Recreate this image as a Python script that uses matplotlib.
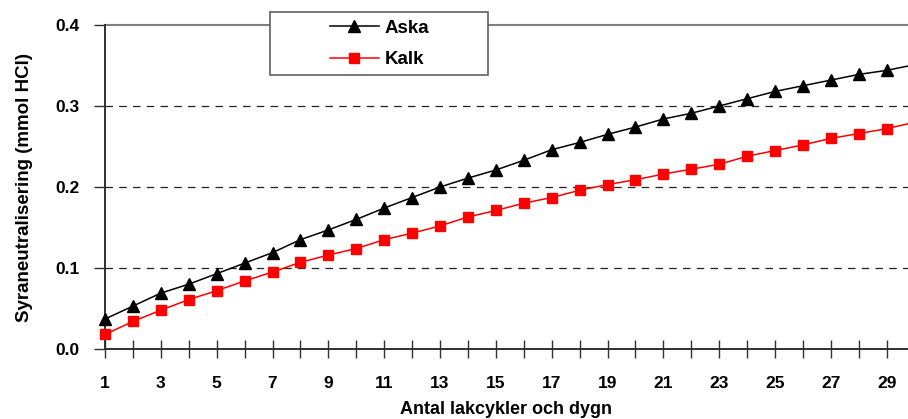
import matplotlib
matplotlib.use('Agg')
import matplotlib.pyplot as plt
from matplotlib.patches import Rectangle
from matplotlib.lines import Line2D

plt.rcParams['font.family'] = ['Liberation Sans', 'DejaVu Sans']
plt.rcParams['font.weight'] = 'bold'

# data
dygn = list(range(1, 31))
aska = [0.037, 0.053, 0.069, 0.080, 0.093, 0.106, 0.119, 0.135, 0.147, 0.160,
        0.174, 0.187, 0.200, 0.211, 0.221, 0.233, 0.246, 0.255, 0.265, 0.274,
        0.284, 0.291, 0.300, 0.309, 0.318, 0.325, 0.332, 0.339, 0.344, 0.351]
kalk = [0.018, 0.034, 0.048, 0.061, 0.072, 0.084, 0.095, 0.107, 0.116, 0.124,
        0.135, 0.143, 0.152, 0.163, 0.171, 0.180, 0.187, 0.196, 0.203, 0.209,
        0.216, 0.222, 0.228, 0.238, 0.245, 0.252, 0.260, 0.266, 0.272, 0.280]
yticks = [0.0, 0.1, 0.2, 0.3, 0.4]
ytick_labels = ['0.0', '0.1', '0.2', '0.3', '0.4']
xticks = list(range(1, 30, 2))

fig = plt.figure(figsize=(9.08, 4.19), dpi=100)
ax = fig.add_axes([105 / 908, 1 - 349 / 419, 1 - 105 / 908, (349 - 25) / 419])

ax.plot(dygn, aska, color='black', lw=1.1, marker='^', ms=8, clip_on=False, zorder=5)
ax.plot(dygn, kalk, color='red', lw=1.1, marker='s', ms=7, mec='red', clip_on=False, zorder=5)

ax.set_xlim(1, 29.76)
ax.set_ylim(0, 0.4)
ax.set_yticks(yticks)
ax.set_yticklabels(ytick_labels)
ax.set_xticks(range(1, 30), minor=True)
ax.set_xticks(xticks)

# gridlines
for v in yticks[1:-1]:
    ax.axhline(v, color='#222222', lw=0.9, ls=(0, (6, 5)), zorder=1)
ax.axhline(0.4, color='#808080', lw=1.5, zorder=1, clip_on=False)

for s in ['top', 'right']:
    ax.spines[s].set_visible(False)
for s in ['left', 'bottom']:
    ax.spines[s].set_color('#303030')
    ax.spines[s].set_linewidth(1.4)

ax.tick_params(axis='y', direction='out', length=8, width=1, color='#303030',
               labelsize=12.5, pad=10)
ax.tick_params(axis='x', which='both', direction='inout', length=13, width=1,
               color='#303030', labelsize=12.5, pad=13)
ax.tick_params(axis='x', which='minor', labelbottom=False)
ax.yaxis.get_major_ticks()[-1].tick1line.set_color('#808080')

ax.set_ylabel('Syraneutralisering (mmol HCl)', fontsize=13.5, fontweight='bold')
ax.yaxis.set_label_coords(-0.09, 0.5)
ax.set_xlabel('Antal lakcykler och dygn', fontsize=13, fontweight='bold')
ax.xaxis.set_label_coords(0.5, -0.16)

# legend box
fig.patches.append(Rectangle((270 / 908, 1 - 75 / 419), 218 / 908, 63 / 419,
                             transform=fig.transFigure, fill=True, facecolor='white',
                             edgecolor='#606060', lw=1.2, zorder=10))
handles = [Line2D([], [], color='black', lw=1.1, marker='^', ms=8),
           Line2D([], [], color='red', lw=1.1, marker='s', ms=7)]
fig.legend(handles, ['Aska', 'Kalk'], loc='upper left',
           bbox_to_anchor=(313 / 908, 1 - 3 / 419), frameon=False,
           prop={'size': 13.5, 'weight': 'bold'}, handlelength=2.6,
           handletextpad=0.3, labelspacing=0.75).set_zorder(11)

fig.savefig('out.png', dpi=100)
